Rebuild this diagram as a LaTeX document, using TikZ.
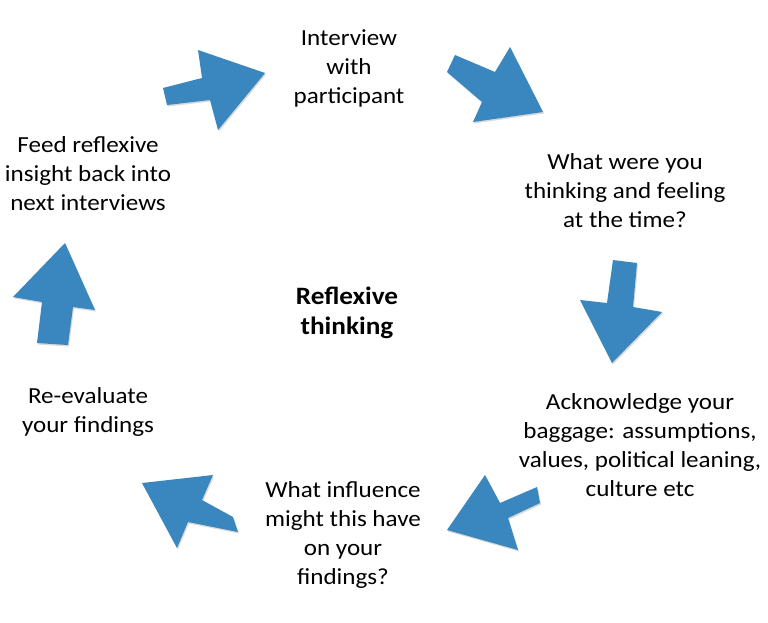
\documentclass[tikz,border=0pt]{standalone}
\usepackage{fontspec}
\setmainfont{Carlito}[FakeStretch=1.09]
\usetikzlibrary{shadows}
\definecolor{arrowblue}{HTML}{3A86BE}
\tikzset{
  blockarrow/.style={fill=arrowblue, draw=none, drop shadow={opacity=0.15, shadow xshift=1pt, shadow yshift=-1.5pt, fill=black}},
  label/.style={align=center, font=\fontsize{23}{29}\selectfont, text=black, inner sep=0pt},
  centre/.style={label, font=\fontsize{25}{30}\selectfont\bfseries}
}
\begin{document}
\begin{tikzpicture}[x=1pt, y=-1pt]
\useasboundingbox (0,0) rectangle (768,622);
\fill[white] (0,0) rectangle (768,622);
% arrows
\filldraw[blockarrow] (163,88) -- (202,78) -- (198,50) -- (265,73) -- (218,130) -- (210,100) -- (167,105) -- cycle;
\filldraw[blockarrow] (455,55) -- (495,72) -- (510,47) -- (543,112) -- (473,122) -- (482,102) -- (447,72) -- cycle;
\filldraw[blockarrow] (613,260) -- (637,263) -- (633,307) -- (662,312) -- (612,363) -- (580,300) -- (607,303) -- cycle;
\filldraw[blockarrow] (537,487) -- (540,503) -- (508,518) -- (518,550) -- (447,530) -- (485,475) -- (500,503) -- cycle;
\filldraw[blockarrow] (233,517) -- (238,532) -- (188,522) -- (177,548) -- (142,483) -- (213,475) -- (202,500) -- cycle;
\filldraw[blockarrow] (65,243) -- (95,310) -- (73,307) -- (68,345) -- (37,343) -- (42,302) -- (13,297) -- cycle;
% texts
\node[label] (interview) at (349,68) {Interview\\with\\participant};
\node[label] (thinking) at (625,191) {What were you\\thinking and feeling\\at the time?};
\node[label] (baggage) at (640,445) {Acknowledge your\\baggage: assumptions,\\values, political leaning,\\culture etc};
\node[label] (influence) at (343,535) {What influence\\might this have\\on your\\findings?};
\node[label] (reeval) at (88,412) {Re-evaluate\\your findings};
\node[label] (feed) at (88,174) {Feed reflexive\\insight back into\\next interviews};
\node[centre] (reflexive) at (347,313) {Reflexive\\thinking};
\end{tikzpicture}
\end{document}
